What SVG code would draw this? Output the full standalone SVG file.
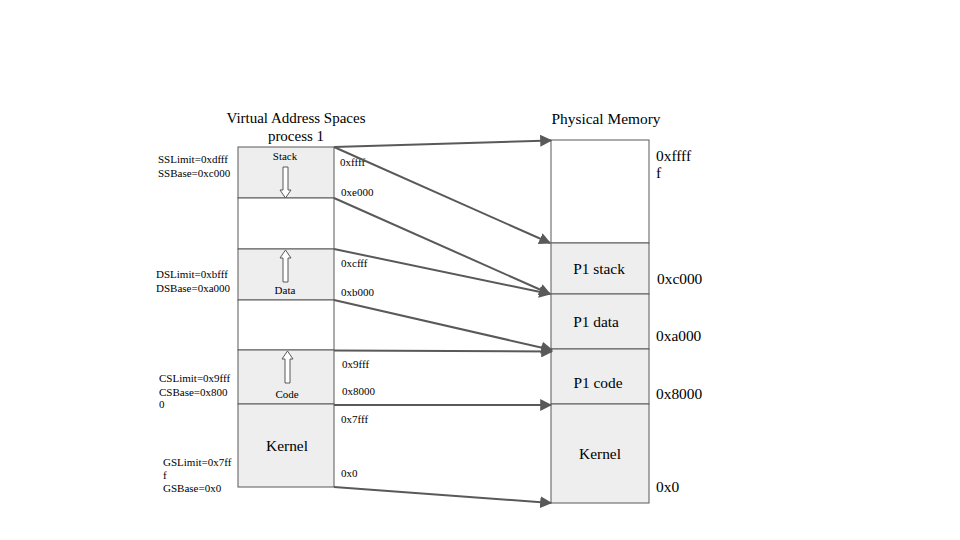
<svg xmlns="http://www.w3.org/2000/svg" width="960" height="540" viewBox="0 0 960 540">
<style>
text{font-family:"Liberation Serif","DejaVu Serif",serif;fill:#000}
.s{font-size:11px}
.m{font-size:15.4px}
.t{font-size:15px}
.g{fill:#eeeeee;stroke:#595959;stroke-width:1}
.w{fill:#ffffff;stroke:#595959;stroke-width:1}
.c{stroke:#595959;stroke-width:2;fill:none;marker-end:url(#ah)}
.h{fill:#ffffff;stroke:#595959;stroke-width:1}
</style>
<defs>
<marker id="ah" viewBox="0 0 10 10" refX="9" refY="5" markerWidth="6" markerHeight="6" markerUnits="strokeWidth" orient="auto">
<path d="M0,0 L10,5 L0,10 z" fill="#595959"/>
</marker>
</defs>
<rect width="960" height="540" fill="#ffffff"/>
<text class="t" x="296" y="123" text-anchor="middle">Virtual Address Spaces</text>
<text class="t" x="296" y="140.5" text-anchor="middle">process 1</text>
<text class="m" x="606" y="124" text-anchor="middle">Physical Memory</text>
<g id="v-stack"><rect class="g" x="238" y="147" width="96" height="51"/><text class="s" x="285" y="160" text-anchor="middle">Stack</text><path class="h" d="M283,167 L288,167 L288,190 L291,190 L285.5,198 L280,190 L283,190 z"/></g>
<g id="v-free1"><rect class="w" x="238" y="198" width="96" height="51"/></g>
<g id="v-data"><rect class="g" x="238" y="249" width="96" height="51"/><text class="s" x="285" y="294" text-anchor="middle">Data</text><path class="h" d="M283,282 L288,282 L288,258 L291,258 L285.5,250 L280,258 L283,258 z"/></g>
<g id="v-free2"><rect class="w" x="238" y="300" width="96" height="50"/></g>
<g id="v-code"><rect class="g" x="238" y="350" width="96" height="54"/><text class="s" x="287" y="398" text-anchor="middle">Code</text><path class="h" d="M285,383 L290,383 L290,359 L293,359 L287.5,351 L282,359 L285,359 z"/></g>
<g id="v-kernel"><rect class="g" x="238" y="404" width="96" height="83"/><text class="m" x="287" y="451" text-anchor="middle">Kernel</text></g>
<g id="p-free"><rect class="w" x="551" y="140" width="98" height="103"/></g>
<g id="p-stack"><rect class="g" x="551" y="243" width="98" height="51"/><text class="m" x="599" y="274" text-anchor="middle">P1 stack</text></g>
<g id="p-data"><rect class="g" x="551" y="294" width="98" height="55"/><text class="m" x="596" y="327" text-anchor="middle">P1 data</text></g>
<g id="p-code"><rect class="g" x="551" y="349" width="98" height="55"/><text class="m" x="598" y="388" text-anchor="middle">P1 code</text></g>
<g id="p-kernel"><rect class="g" x="551" y="404" width="98" height="99"/><text class="m" x="600" y="459" text-anchor="middle">Kernel</text></g>
<g id="labels">
<text class="s" x="158" y="163">SSLimit=0xdfff</text>
<text class="s" x="158" y="177">SSBase=0xc000</text>
<text class="s" x="156" y="278">DSLimit=0xbfff</text>
<text class="s" x="156" y="292">DSBase=0xa000</text>
<text class="s" x="159" y="382">CSLimit=0x9fff</text>
<text class="s" x="159" y="396">CSBase=0x800</text>
<text class="s" x="159" y="408">0</text>
<text class="s" x="163" y="466">GSLimit=0x7ff</text>
<text class="s" x="163" y="479">f</text>
<text class="s" x="163" y="492">GSBase=0x0</text>
<text class="s" x="340" y="166">0xffff</text>
<text class="s" x="341" y="196">0xe000</text>
<text class="s" x="341" y="267">0xcfff</text>
<text class="s" x="341" y="296">0xb000</text>
<text class="s" x="342" y="368">0x9fff</text>
<text class="s" x="342" y="395">0x8000</text>
<text class="s" x="341" y="423">0x7fff</text>
<text class="s" x="341" y="477">0x0</text>
<text class="m" x="656" y="161">0xffff</text>
<text class="m" x="656" y="178">f</text>
<text class="m" x="657" y="284">0xc000</text>
<text class="m" x="656" y="341">0xa000</text>
<text class="m" x="656" y="399">0x8000</text>
<text class="m" x="656" y="492">0x0</text>
</g>
<g id="connectors">
<line class="c" x1="334" y1="147" x2="551" y2="140.5"/>
<line class="c" x1="334" y1="147" x2="550" y2="243"/>
<line class="c" x1="334" y1="198" x2="550" y2="294"/>
<line class="c" x1="334" y1="249" x2="550" y2="294"/>
<line class="c" x1="334" y1="300" x2="552" y2="350"/>
<line class="c" x1="334" y1="350.5" x2="552" y2="351.5"/>
<line class="c" x1="334" y1="405" x2="551" y2="405"/>
<line class="c" x1="334" y1="487" x2="551" y2="503"/>
</g>
</svg>
